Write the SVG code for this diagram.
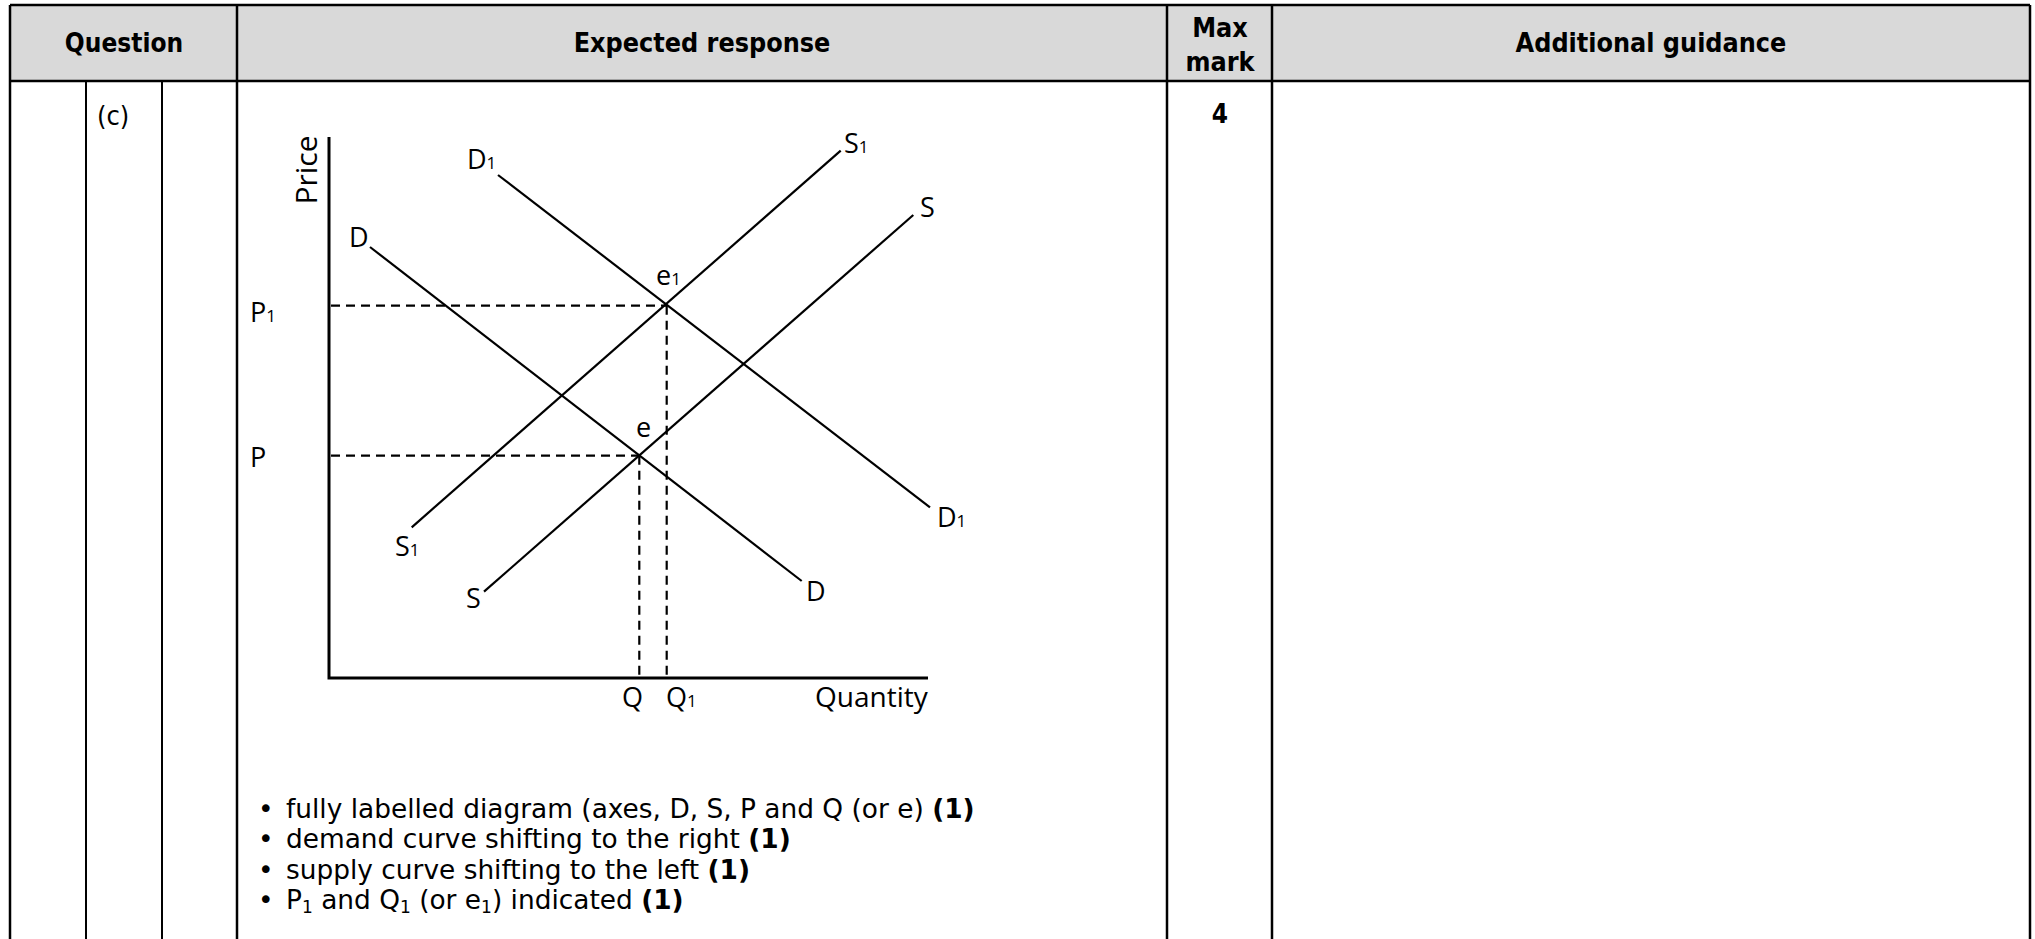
<svg xmlns="http://www.w3.org/2000/svg" width="2035" height="939" viewBox="0 0 2035 939">
<style>
.hdr{font-family:"DejaVu Sans Condensed","DejaVu Sans",sans-serif;font-weight:bold;font-size:26.7px;fill:#000;text-anchor:middle}
.cell{font-family:"DejaVu Sans Condensed","DejaVu Sans",sans-serif;font-size:27px;fill:#000}
.blt{font-family:"DejaVu Sans",sans-serif;font-size:26.4px;fill:#000}
.b{font-weight:bold}
.lbl{font-family:"Open Sans","DejaVu Sans",sans-serif;font-size:27px;fill:#000}
.sub{font-size:17px}
.grid{stroke:#000;stroke-width:2.5;fill:none}
.curve{stroke:#000;stroke-width:2.2;fill:none}
.axis{stroke:#000;stroke-width:3;fill:none}
.dash{stroke:#000;stroke-width:2.2;fill:none;stroke-dasharray:9 6}
</style>
<rect width="2035" height="939" fill="#fff"/>
<g id="table">
  <rect x="10" y="5" width="2020" height="76" fill="#d9d9d9"/>
  <path class="grid" d="M10,5 H2030 M10,81 H2030 M10,5 V939 M2030,5 V939 M237,5 V939 M1167,5 V939 M1272,5 V939"/>
  <path class="grid" style="stroke-width:2" d="M86,81 V939 M162,81 V939"/>
  <text class="hdr" x="124" y="52" style="font-size:26px">Question</text>
  <text class="hdr" x="702" y="52">Expected response</text>
  <text class="hdr" x="1220" y="37">Max</text>
  <text class="hdr" x="1220" y="71">mark</text>
  <text class="hdr" x="1651" y="52">Additional guidance</text>
  <text class="cell" x="97" y="125">(c)</text>
  <text class="cell b" x="1220" y="123" text-anchor="middle" style="font-size:26px">4</text>
</g>
<g id="chart">
  <path class="axis" d="M329,137 V678 H928"/>
  <g id="connectors">
    <path class="dash" d="M331,305.7 H666.7 M331,455.7 H639.3 M639.3,455.7 V676 M666.7,305.7 V676"/>
    <line id="curve-D" class="curve" x1="370" y1="247" x2="801.7" y2="581"/>
    <line id="curve-D1" class="curve" x1="498" y1="175" x2="930" y2="507.3"/>
    <line id="curve-S1" class="curve" x1="411.7" y1="527.3" x2="840.7" y2="150.7"/>
    <line id="curve-S" class="curve" x1="484" y1="591.7" x2="913.3" y2="215"/>
  </g>
  <text class="lbl" transform="translate(317,170) rotate(-90)" text-anchor="middle" style="font-size:30px">Price</text>
  <text class="lbl" x="467" y="169">D<tspan class="sub">1</tspan></text>
  <text class="lbl" x="349" y="247">D</text>
  <text class="lbl" x="656" y="285">e<tspan class="sub">1</tspan></text>
  <text class="lbl" x="250" y="322">P<tspan class="sub">1</tspan></text>
  <text class="lbl" x="636" y="437">e</text>
  <text class="lbl" x="250" y="467">P</text>
  <text class="lbl" x="844" y="153">S<tspan class="sub">1</tspan></text>
  <text class="lbl" x="920" y="217">S</text>
  <text class="lbl" x="937" y="527">D<tspan class="sub">1</tspan></text>
  <text class="lbl" x="395" y="556">S<tspan class="sub">1</tspan></text>
  <text class="lbl" x="466" y="608">S</text>
  <text class="lbl" x="806" y="601">D</text>
  <text class="lbl" x="622" y="707">Q</text>
  <text class="lbl" x="666" y="707">Q<tspan class="sub">1</tspan></text>
  <text class="lbl" x="815" y="707" style="font-size:28px">Quantity</text>
</g>
<g id="bullets" class="blt">
  <text x="258" y="818">•</text>
  <text x="286" y="818">fully labelled diagram (axes, D, S, P and Q (or e) <tspan class="b">(1)</tspan></text>
  <text x="258" y="848">•</text>
  <text x="286" y="848">demand curve shifting to the right <tspan class="b">(1)</tspan></text>
  <text x="258" y="879">•</text>
  <text x="286" y="879">supply curve shifting to the left <tspan class="b">(1)</tspan></text>
  <text x="258" y="909">•</text>
  <text x="286" y="909">P<tspan font-size="17" dy="4">1</tspan><tspan dy="-4"> and Q</tspan><tspan font-size="17" dy="4">1</tspan><tspan dy="-4"> (or e</tspan><tspan font-size="17" dy="4">1</tspan><tspan dy="-4">) indicated </tspan><tspan class="b">(1)</tspan></text>
</g>
</svg>
